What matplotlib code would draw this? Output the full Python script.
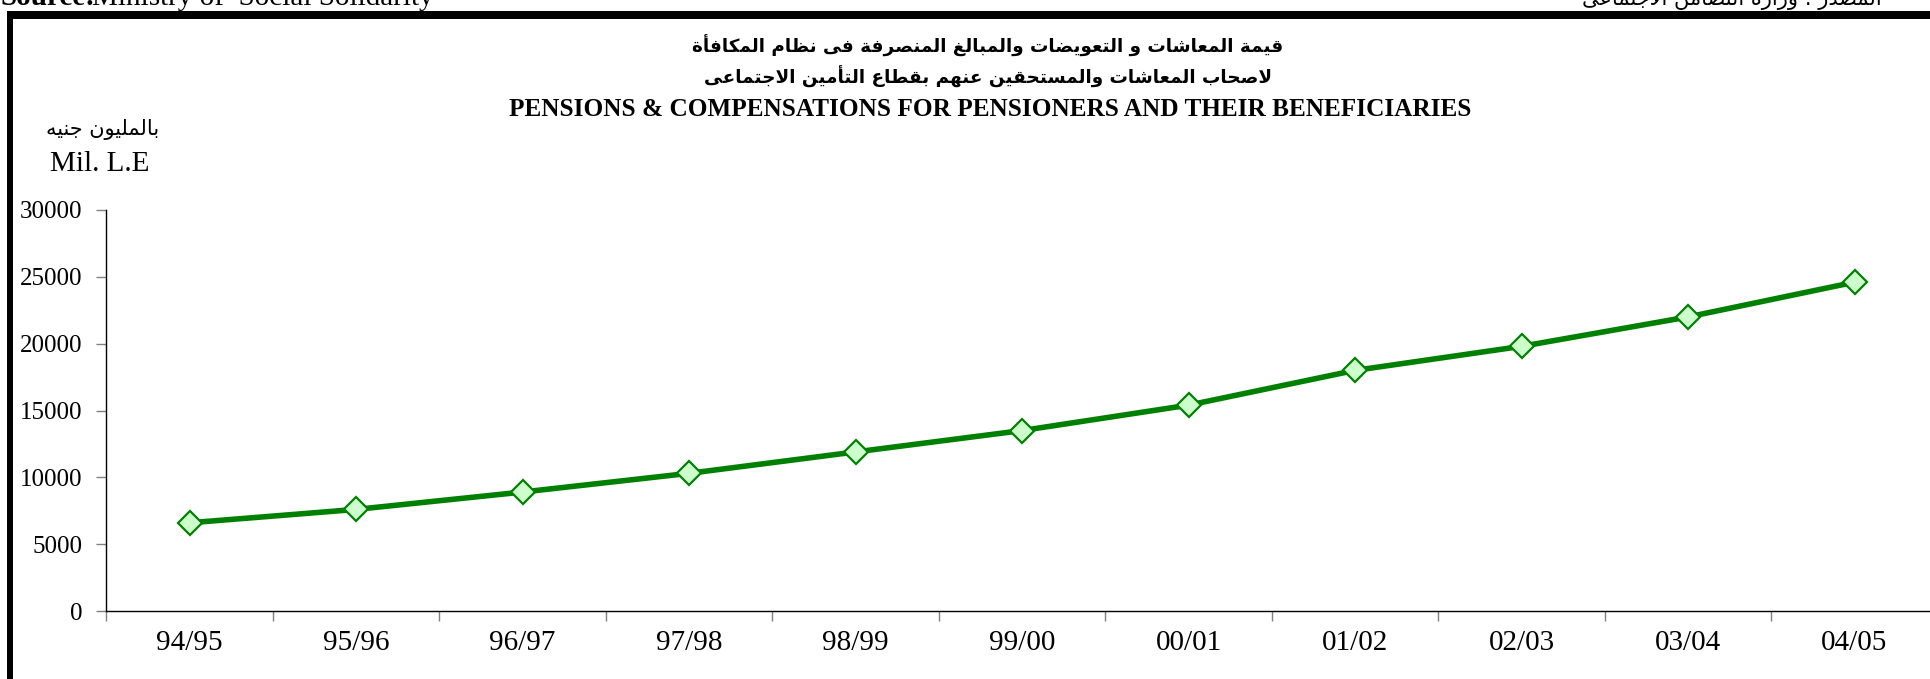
import matplotlib
matplotlib.use("Agg")
import matplotlib.pyplot as plt
from matplotlib.patches import Rectangle
from matplotlib.ticker import FixedLocator

# data (million L.E)
years = ["94/95", "95/96", "96/97", "97/98", "98/99", "99/00",
         "00/01", "01/02", "02/03", "03/04", "04/05"]
pensions = [6600, 7600, 8900, 10300, 11900, 13500, 15400, 18000, 19800, 22000, 24600]
y_ticks = [0, 5000, 10000, 15000, 20000, 25000, 30000]

title_ar1 = "قيمة المعاشات و التعويضات والمبالغ المنصرفة فى نظام المكافأة"
title_ar2 = "لاصحاب المعاشات والمستحقين عنهم بقطاع التأمين الاجتماعى"
title_en = "PENSIONS & COMPENSATIONS FOR PENSIONERS AND THEIR BENEFICIARIES"
unit_ar = "بالمليون جنيه"
unit_en = "Mil. L.E"
source_en = "Ministry of  Social Solidarity"
source_ar = "المصدر : وزارة التضامن الاجتماعى"

# arabic letters -> first presentation form (isolated); dual joining letters have 4 forms
DUAL = {'ئ': 0xFE89, 'ب': 0xFE8F, 'ت': 0xFE95, 'ث': 0xFE99, 'ج': 0xFE9D, 'ح': 0xFEA1,
        'خ': 0xFEA5, 'س': 0xFEB1, 'ش': 0xFEB5, 'ص': 0xFEB9, 'ض': 0xFEBD, 'ط': 0xFEC1,
        'ظ': 0xFEC5, 'ع': 0xFEC9, 'غ': 0xFECD, 'ف': 0xFED1, 'ق': 0xFED5, 'ك': 0xFED9,
        'ل': 0xFEDD, 'م': 0xFEE1, 'ن': 0xFEE5, 'ه': 0xFEE9, 'ي': 0xFEF1}
RIGHT = {'آ': 0xFE81, 'أ': 0xFE83, 'ؤ': 0xFE85, 'إ': 0xFE87, 'ا': 0xFE8D, 'ة': 0xFE93,
         'د': 0xFEA9, 'ذ': 0xFEAB, 'ر': 0xFEAD, 'ز': 0xFEAF, 'و': 0xFEED, 'ى': 0xFEEF}
LAM_ALEF = {'آ': 0xFEF5, 'أ': 0xFEF7, 'إ': 0xFEF9, 'ا': 0xFEFB}


def shape(text):
    # matplotlib has no arabic shaping: pick joined forms and reverse for right-to-left
    toks = []
    i = 0
    while i < len(text):
        if text[i] == 'ل' and i + 1 < len(text) and text[i + 1] in LAM_ALEF:
            toks.append(('LA', text[i + 1]))
            i += 2
        else:
            toks.append(('C', text[i]))
            i += 1

    def joins_next(t):
        return t[0] == 'C' and t[1] in DUAL

    def joins_prev(t):
        return t[0] == 'LA' or t[1] in DUAL or t[1] in RIGHT

    out = []
    for k, t in enumerate(toks):
        prev = k > 0 and joins_next(toks[k - 1]) and joins_prev(t)
        nxt = k + 1 < len(toks) and joins_next(t) and joins_prev(toks[k + 1])
        if t[0] == 'LA':
            out.append(chr(LAM_ALEF[t[1]] + (1 if prev else 0)))
        elif t[1] in DUAL:
            off = 3 if (prev and nxt) else 1 if prev else 2 if nxt else 0
            out.append(chr(DUAL[t[1]] + off))
        elif t[1] in RIGHT:
            out.append(chr(RIGHT[t[1]] + (1 if prev else 0)))
        else:
            out.append(t[1])
    return ''.join(reversed(out))


W, H = 1930, 679
plt.rcParams['font.family'] = ['Liberation Serif', 'DejaVu Sans']

fig = plt.figure(figsize=(W / 100, H / 100), dpi=100)


def fx(px):
    return px / W


def fy(py):
    return 1 - py / H


# frame around the chart (left and top edges)
fig.patches.append(Rectangle((fx(7), 0), fx(6), fy(11), transform=fig.transFigure,
                             facecolor='black', edgecolor='none', zorder=5))
fig.patches.append(Rectangle((fx(7), fy(19)), 1, fy(11) - fy(19), transform=fig.transFigure,
                             facecolor='black', edgecolor='none', zorder=5))

# source line, cut off by the page edge
fig.text(fx(0), fy(5), "Source:", fontsize=21, fontweight='bold', va='baseline', ha='left')
fig.text(fx(92), fy(5), source_en, fontsize=21, va='baseline', ha='left')
fig.text(fx(1882), fy(5), shape(source_ar), fontsize=15, family='DejaVu Sans',
         va='baseline', ha='right')

# titles
fig.text(fx(988), fy(46), shape(title_ar1), fontsize=13.2, family='DejaVu Sans',
         fontweight='bold', ha='center', va='center')
fig.text(fx(988), fy(77), shape(title_ar2), fontsize=13.2, family='DejaVu Sans',
         fontweight='bold', ha='center', va='center')
fig.text(fx(990), fy(110), title_en, fontsize=18.2, fontweight='bold', ha='center', va='center')

# unit labels
fig.text(fx(103), fy(129), shape(unit_ar), fontsize=15, family='DejaVu Sans',
         ha='center', va='center')
fig.text(fx(100), fy(164), unit_en, fontsize=21, ha='center', va='center')

left, right, top, bottom = 106.3, 1937.8, 210, 611
ax = fig.add_axes([fx(left), fy(bottom), fx(right - left), fy(top) - fy(bottom)])

x = list(range(len(years)))
ax.plot(x, pensions, color='#008000', linewidth=4, marker='D', markersize=12,
        markerfacecolor='#CCFFCC', markeredgecolor='#008000', markeredgewidth=1.6,
        clip_on=False, zorder=3)

ax.set_xlim(-0.5, len(years) - 0.5)
ax.set_ylim(0, 30000)
ax.set_yticks(y_ticks)
ax.set_yticklabels([str(v) for v in y_ticks])
ax.set_xticks(x)
ax.set_xticklabels(years)
ax.xaxis.set_minor_locator(FixedLocator([i - 0.5 for i in range(len(years) + 1)]))

ax.tick_params(axis='x', which='major', length=0, labelsize=21, pad=14)
ax.tick_params(axis='x', which='minor', length=7, width=1, color='#808080')
ax.tick_params(axis='y', which='major', length=7, width=1, color='#808080',
               labelsize=18, pad=10)

for side in ('top', 'right'):
    ax.spines[side].set_visible(False)
for side in ('left', 'bottom'):
    ax.spines[side].set_linewidth(1)
    ax.spines[side].set_color('black')

fig.savefig("out.png", dpi=100)
